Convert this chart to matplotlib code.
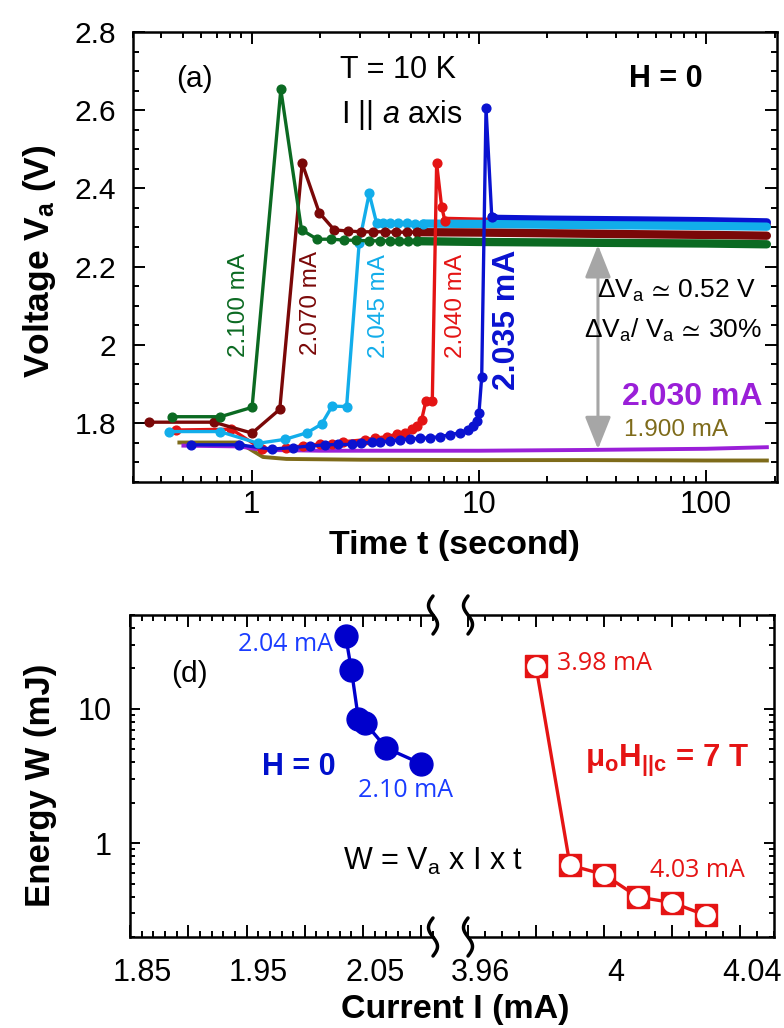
import numpy as np
import matplotlib
matplotlib.use('Agg')
import matplotlib.pyplot as plt
from matplotlib import ticker, transforms
from matplotlib.lines import Line2D

plt.rcParams['font.family'] = ['Liberation Sans', 'DejaVu Sans']
plt.rcParams['mathtext.fontset'] = 'custom'
plt.rcParams['mathtext.rm'] = 'Liberation Sans'
plt.rcParams['mathtext.it'] = 'Liberation Sans:italic'
plt.rcParams['mathtext.bf'] = 'Liberation Sans:bold'
plt.rcParams['mathtext.default'] = 'regular'
plt.rcParams['mathtext.fallback'] = 'stixsans'

# ---------------- panel (a) data : time (s) vs voltage (V) ----------------
t_2100 = [0.447, 0.728, 1.003, 1.342, 1.655, 1.94, 2.23, 2.54, 2.88, 3.27, 3.66, 4.05, 4.45, 4.88, 5.32]
v_2100 = [1.816, 1.816, 1.840, 2.653, 2.294, 2.270, 2.270, 2.268, 2.267, 2.266, 2.266, 2.266, 2.265, 2.265, 2.265]
tp_2100 = [5.32, 10, 30, 100, 185]
vp_2100 = [2.265, 2.263, 2.261, 2.259, 2.257]

t_2070 = [0.352, 0.680, 1.003, 1.328, 1.666, 1.98, 2.305, 2.64, 3.02, 3.42, 3.85, 4.33, 4.80, 5.31]
v_2070 = [1.802, 1.802, 1.774, 1.835, 2.464, 2.338, 2.294, 2.291, 2.289, 2.289, 2.289, 2.288, 2.288, 2.288]
tp_2070 = [5.31, 10, 30, 100, 185]
vp_2070 = [2.288, 2.287, 2.284, 2.281, 2.279]

t_2045 = [0.432, 0.723, 1.066, 1.397, 1.752, 2.028, 2.258, 2.614, 2.97, 3.287, 3.54, 3.78, 4.06, 4.41, 4.80, 5.23, 5.69]
v_2045 = [1.778, 1.778, 1.748, 1.758, 1.775, 1.797, 1.843, 1.842, 2.261, 2.387, 2.312, 2.312, 2.311, 2.311, 2.311, 2.310, 2.310]
tp_2045 = [5.69, 10, 30, 100, 185]
vp_2045 = [2.310, 2.309, 2.306, 2.304, 2.302]

t_2040 = [0.463, 0.814, 1.11, 1.408, 1.683, 1.993, 2.245, 2.525, 3.146, 3.483, 3.92, 4.34, 4.72,
          5.05, 5.32, 5.59, 5.84, 6.23, 6.51, 6.85, 7.08]
v_2040 = [1.782, 1.784, 1.733, 1.735, 1.742, 1.746, 1.746, 1.752, 1.757, 1.761, 1.765, 1.771, 1.775,
          1.784, 1.792, 1.808, 1.856, 1.856, 2.464, 2.353, 2.317]
tp_2040 = [7.08, 10, 30, 100, 185]
vp_2040 = [2.317, 2.315, 2.312, 2.309, 2.306]

t_2035 = [0.539, 0.879, 1.229, 1.511, 1.80, 2.097, 2.40, 2.75, 3.04, 3.37, 3.66, 4.05, 4.49, 4.97,
          5.50, 6.08, 6.73, 7.45, 8.25, 8.97, 9.44, 9.77, 10.0, 10.28, 10.74, 11.38]
v_2035 = [1.744, 1.744, 1.733, 1.737, 1.741, 1.744, 1.745, 1.745, 1.748, 1.751, 1.751, 1.754, 1.757, 1.759,
          1.761, 1.762, 1.765, 1.770, 1.775, 1.782, 1.792, 1.806, 1.826, 1.918, 2.605, 2.328]
tp_2035 = [11.38, 12, 20, 50, 100, 185]
vp_2035 = [2.328, 2.322, 2.320, 2.318, 2.316, 2.313]

t_2030 = [0.50, 0.88, 1.12, 2.0, 5.0, 10, 30, 100, 185]
v_2030 = [1.742, 1.740, 1.731, 1.729, 1.729, 1.729, 1.731, 1.734, 1.738]

t_1900 = [0.48, 0.88, 1.12, 1.42, 3.0, 10, 30, 100, 185]
v_1900 = [1.750, 1.750, 1.713, 1.708, 1.706, 1.705, 1.705, 1.704, 1.704]

arrow_t = 33.4
arrow_v = (1.733, 2.255)

# ---------------- panel (d) data : current (mA) vs energy (mJ) ----------------
I_H0 = [2.035, 2.040, 2.046, 2.052, 2.070, 2.100]
W_H0 = [35.0, 19.5, 8.4, 7.8, 5.1, 3.9]
I_H7 = [3.98, 3.99, 4.00, 4.01, 4.02, 4.03]
W_H7 = [20.7, 0.685, 0.584, 0.397, 0.361, 0.290]

# ---------------- colours ----------------
c_2100 = '#0b6a22'
c_2070 = '#7a0808'
c_2045 = '#12adea'
c_2040 = '#e41414'
c_2035 = '#0a12d0'
c_2030 = '#9a1fd8'
c_1900 = '#7e6b1a'

W, H = 784, 1028
fig = plt.figure(figsize=(W / 100, H / 100), dpi=100)


def rect(l, t, r, b):
    return [l / W, 1 - b / H, (r - l) / W, (b - t) / H]


def fx(x):
    return x / W


def fy(y):
    return 1 - y / H


axA = fig.add_axes(rect(133, 32, 777, 482))
axL = fig.add_axes(rect(130, 615, 433, 937))
axR = fig.add_axes(rect(468, 615, 774, 937))

for ax in (axA, axL, axR):
    for s in ax.spines.values():
        s.set_linewidth(1.8)

# ---------------- panel (a) ----------------
series = [
    (t_2040, v_2040, tp_2040, vp_2040, c_2040, 3.0),
    (t_2035, v_2035, tp_2035, vp_2035, c_2035, 3.1),
    (t_2045, v_2045, tp_2045, vp_2045, c_2045, 3.2),
    (t_2070, v_2070, tp_2070, vp_2070, c_2070, 3.3),
    (t_2100, v_2100, tp_2100, vp_2100, c_2100, 3.4),
]
axA.plot(t_1900, v_1900, color=c_1900, lw=2.8, zorder=2)
axA.plot(t_2030, v_2030, color=c_2030, lw=2.8, zorder=2.05)
for t, v, tp, vp, c, z in series:
    axA.plot(tp, vp, color=c, lw=6.0, solid_capstyle='round', zorder=z - 1)
    axA.plot(t, v, color=c, lw=2.4, marker='o', ms=6.3, zorder=z)

axA.set_xscale('log')
axA.set_xlim(0.30, 205)
axA.set_ylim(1.649, 2.8)
axA.yaxis.set_major_locator(ticker.MultipleLocator(0.2))
axA.yaxis.set_minor_locator(ticker.MultipleLocator(0.05))
axA.yaxis.set_major_formatter(ticker.FuncFormatter(lambda v, p: f'{v:g}'))
axA.xaxis.set_major_locator(ticker.LogLocator(base=10))
axA.xaxis.set_minor_locator(ticker.LogLocator(base=10, subs=np.arange(2, 10)))
axA.xaxis.set_major_formatter(ticker.FuncFormatter(lambda v, p: f'{v:g}'))
axA.xaxis.set_minor_formatter(ticker.NullFormatter())
axA.tick_params(which='both', direction='in', top=True, right=True, width=1.4)
axA.tick_params(which='major', length=8.6)
axA.tick_params(which='minor', length=4.3)
axA.tick_params(axis='x', labelsize=22.5, pad=6)
axA.tick_params(axis='y', labelsize=21.5, pad=12)

axA.annotate('', xy=(arrow_t, arrow_v[0]), xytext=(arrow_t, arrow_v[1]),
             arrowprops=dict(arrowstyle='<|-|>,head_length=0.5,head_width=0.2', mutation_scale=40,
                             color='#a6a6a6', lw=2.2, shrinkA=0, shrinkB=0), zorder=5)

fig.text(fx(194), fy(87), '(a)', fontsize=21.5, ha='center', va='baseline')
fig.text(fx(340), fy(78), 'T = 10 K', fontsize=22, ha='left', va='baseline')
fig.text(fx(341), fy(123), r'I || $\mathit{a}$ axis', fontsize=22, ha='left', va='baseline')
fig.text(fx(666), fy(87), 'H = 0', fontsize=22, fontweight='bold', ha='center', va='baseline')
fig.text(fx(756), fy(298), r'ΔV$_a$ $\!\simeq\!$ 0.52 V', fontsize=19, ha='right', va='baseline')
fig.text(fx(762), fy(338), r'ΔV$_a$/ V$_a$ $\!\simeq\!$ 30%', fontsize=19, ha='right', va='baseline')
fig.text(fx(622), fy(405), '2.030 mA', fontsize=23, fontweight='bold', color=c_2030, ha='left', va='baseline')
fig.text(fx(624), fy(436), '1.900 mA', fontsize=17.5, color=c_1900, ha='left', va='baseline')

for lab, x, y, c, bold in [('2.100 mA', 245, 305, c_2100, False),
                           ('2.070 mA', 317, 303, c_2070, False),
                           ('2.045 mA', 385, 306, c_2045, False),
                           ('2.040 mA', 462, 306, c_2040, False),
                           ('2.035 mA', 515, 320, c_2035, True)]:
    fig.text(fx(x), fy(y), lab, rotation=90, rotation_mode='anchor', ha='center', va='baseline',
             color=c, fontsize=23 if bold else 17.5, fontweight='bold' if bold else 'normal')

fig.text(fx(454), fy(554), 'Time t (second)', fontsize=24.5, fontweight='bold', ha='center', va='baseline')
fig.text(fx(49), fy(261.5), r'Voltage V$_a$ (V)', fontsize=25.5, fontweight='bold', rotation=90,
         rotation_mode='anchor', ha='center', va='baseline')

# ---------------- panel (d) ----------------
axL.plot(I_H0, W_H0, color='#0000cc', lw=2.4, marker='o', ms=16.5, zorder=3)
axR.plot(I_H7, W_H7, color='#e51414', lw=2.4, marker='s', ms=16, mfc='#e51414', mec='#e51414', zorder=3)
axR.plot(I_H7, W_H7, ls='none', marker='o', ms=13.5, mfc='white', mec='none', zorder=4)

for ax in (axL, axR):
    ax.set_yscale('log')
    ax.set_ylim(0.2, 50)
    ax.yaxis.set_major_locator(ticker.LogLocator(base=10))
    ax.yaxis.set_minor_locator(ticker.LogLocator(base=10, subs=np.arange(2, 10)))
    ax.yaxis.set_major_formatter(ticker.FuncFormatter(lambda v, p: f'{v:g}'))
    ax.yaxis.set_minor_formatter(ticker.NullFormatter())

axL.set_xlim(1.85, 2.11)
axL.set_xticks([1.85, 1.90, 1.95, 2.00, 2.05, 2.10], ['1.85', '', '1.95', '', '2.05', ''])
axL.xaxis.set_minor_locator(ticker.MultipleLocator(0.01))
axL.spines['right'].set_visible(False)
axL.tick_params(which='both', direction='in', top=True, bottom=True, left=True, right=False, width=1.4)

axR.set_xlim(3.96, 4.05)
axR.set_xticks([3.96, 3.98, 4.00, 4.02, 4.04], ['3.96', '', '4', '', '4.04'])
axR.xaxis.set_minor_locator(ticker.MultipleLocator(0.005))
axR.spines['left'].set_visible(False)
axR.tick_params(which='both', direction='in', top=True, bottom=True, left=False, right=True,
                labelleft=False, width=1.4)

for ax in (axL, axR):
    ax.tick_params(axis='x', which='major', length=8.6)
    ax.tick_params(axis='x', which='minor', length=4.3)
    ax.tick_params(axis='y', which='major', length=7.5)
    ax.tick_params(axis='y', which='minor', length=3.8)
    ax.tick_params(axis='x', labelsize=22, pad=15)
    ax.tick_params(axis='y', labelsize=22, pad=13)
    shift = transforms.ScaledTranslation(0.12, 0, fig.dpi_scale_trans)
    for lab in ax.get_xticklabels():
        lab.set_transform(lab.get_transform() + shift)

# break marks
u = np.linspace(0, 1, 50)
bx = -0.045 * np.sin(2 * np.pi * u)
by = 0.19 - 0.38 * u
for ax, xa in ((axL, 1.0), (axR, 0.0)):
    for ya in (0.0, 1.0):
        tr = fig.dpi_scale_trans + transforms.ScaledTranslation(xa, ya, ax.transAxes)
        fig.add_artist(Line2D(bx, by, transform=tr, color='black', lw=2.5, solid_capstyle='round'))

fig.text(fx(189), fy(682), '(d)', fontsize=21.5, ha='center', va='baseline')
fig.text(fx(262), fy(775), 'H = 0', fontsize=22, fontweight='bold', color='#0010cc', ha='left', va='baseline')
fig.text(fx(585), fy(767), r'μ$_o$H$_{||c}$ = 7 T', fontsize=22.5, fontweight='bold', color='#e51414',
         ha='left', va='baseline')
fig.text(fx(333), fy(651), '2.04 mA', fontsize=18, family='Open Sans', color='#1a3cff', ha='right', va='baseline')
fig.text(fx(358), fy(797), '2.10 mA', fontsize=18, family='Open Sans', color='#1a3cff', ha='left', va='baseline')
fig.text(fx(557), fy(670), '3.98 mA', fontsize=18, family='Open Sans', color='#e51414', ha='left', va='baseline')
fig.text(fx(650), fy(877), '4.03 mA', fontsize=18, family='Open Sans', color='#e51414', ha='left', va='baseline')
fig.text(fx(343), fy(870), r'W = V$_a$ x I x t', fontsize=22, ha='left', va='baseline')

fig.text(fx(455), fy(1018), 'Current I (mA)', fontsize=24.5, fontweight='bold', ha='center', va='baseline')
fig.text(fx(50), fy(785.5), 'Energy W (mJ)', fontsize=25, fontweight='bold', rotation=90,
         rotation_mode='anchor', ha='center', va='baseline')

fig.savefig('out.png', dpi=100)
